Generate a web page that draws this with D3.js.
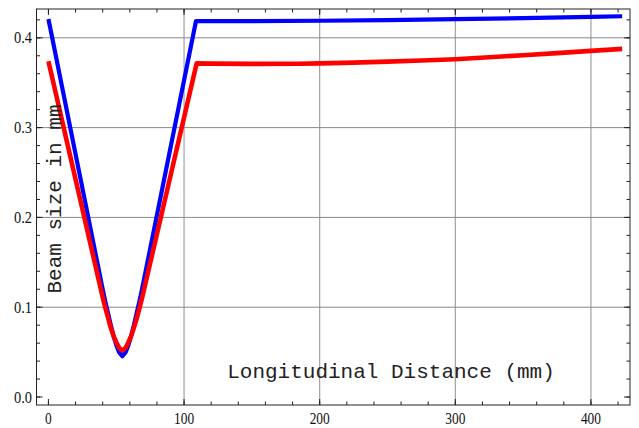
<!DOCTYPE html>
<html>
<head>
<meta charset="utf-8">
<script src="https://cdn.jsdelivr.net/npm/d3@7"></script>
<style>
  html, body { margin: 0; padding: 0; background: #fff; }
  svg { display: block; }
</style>
</head>
<body>
<svg id="chart" width="639" height="428"></svg>
<script>
// ---- data ----
const blueX = [0, 40, 42, 44, 46, 48, 50, 52, 54.5, 57, 59, 61, 63, 65, 67, 69, 108.8, 110, 150, 200, 250, 300, 350, 400, 423];
const blueY = [0.421, 0.120, 0.106, 0.093, 0.080, 0.068, 0.058, 0.050, 0.0455, 0.050, 0.058, 0.068, 0.080, 0.093, 0.106, 0.120, 0.4187, 0.4186, 0.4185, 0.4190, 0.4198, 0.4208, 0.4220, 0.4233, 0.4240];

const redX = [0, 40, 42, 44, 46, 48, 50, 52, 54.4, 57, 59, 61, 63, 65, 67, 69, 109.3, 120, 150, 185, 200, 225, 250, 275, 300, 325, 350, 375, 400, 423];
const redY = [0.374, 0.111, 0.099, 0.088, 0.077, 0.068, 0.061, 0.055, 0.0516, 0.055, 0.061, 0.068, 0.077, 0.087, 0.098, 0.110, 0.3716, 0.3713, 0.3710, 0.3712, 0.3716, 0.3724, 0.3735, 0.3747, 0.3762, 0.3783, 0.3806, 0.3830, 0.3855, 0.3877];

const xMajorTicks = [0, 100, 200, 300, 400];
const xTickLabels = ["0", "100", "200", "300", "400"];
const yMajorTicks = [0.0, 0.1, 0.2, 0.3, 0.4];
const yTickLabels = ["0.0", "0.1", "0.2", "0.3", "0.4"];
const xGridValues = [100, 200, 300, 400];
const yGridValues = [0.1, 0.2, 0.3, 0.4];
const xMinorTicks = d3.range(0, 421, 20);
const yMinorTicks = d3.range(0, 43).filter(i => i % 2 === 0).map(i => +(i / 100).toFixed(2));

const xLabel = "Longitudinal Distance (mm)";
const yLabel = "Beam size in mm";

// ---- layout ----
const L = 36.5, R = 630, T = 9, B = 405;
const x = d3.scaleLinear().domain([-8.8, 428.8]).range([L, R]);
const y = d3.scaleLinear().domain([-0.0089, 0.4321]).range([B, T]);

const svg = d3.select("#chart");

// grid
const g = svg.append("g");
g.selectAll(".gx").data(xGridValues).enter().append("line")
  .attr("x1", d => x(d)).attr("x2", d => x(d)).attr("y1", T).attr("y2", B)
  .attr("stroke", "#9a9a9a").attr("stroke-width", 1.1);
g.selectAll(".gy").data(yGridValues).enter().append("line")
  .attr("x1", L).attr("x2", R).attr("y1", d => y(d)).attr("y2", d => y(d))
  .attr("stroke", "#8a8a8a").attr("stroke-width", 1);

// ticks (inward, all four sides)
function addTicks(vals, len) {
  vals.forEach(v => {
    g.append("line").attr("x1", x(v)).attr("x2", x(v)).attr("y1", B).attr("y2", B - len).attr("stroke", "#222");
    g.append("line").attr("x1", x(v)).attr("x2", x(v)).attr("y1", T).attr("y2", T + len).attr("stroke", "#222");
  });
}
function addYTicks(vals, len) {
  vals.forEach(v => {
    g.append("line").attr("y1", y(v)).attr("y2", y(v)).attr("x1", L).attr("x2", L + len).attr("stroke", "#222");
    g.append("line").attr("y1", y(v)).attr("y2", y(v)).attr("x1", R).attr("x2", R - len).attr("stroke", "#222");
  });
}
addTicks(xMinorTicks, 3.5);
addTicks(xMajorTicks, 6);
addYTicks(yMinorTicks, 3.5);
addYTicks(yMajorTicks, 6);

// frame
svg.append("rect").attr("x", L).attr("y", T).attr("width", R - L).attr("height", B - T)
  .attr("fill", "none").attr("stroke", "#222").attr("stroke-width", 1);

// tick labels
svg.selectAll(".xl").data(xMajorTicks).enter().append("text")
  .attr("x", d => x(d)).attr("y", 424)
  .attr("text-anchor", "middle")
  .attr("font-family", "'Liberation Serif', 'Times New Roman', serif")
  .attr("font-size", 16)
  .attr("textLength", (d, i) => xTickLabels[i].length * 6.7)
  .attr("lengthAdjust", "spacingAndGlyphs")
  .attr("fill", "#111")
  .text((d, i) => xTickLabels[i]);

svg.selectAll(".yl").data(yMajorTicks).enter().append("text")
  .attr("x", 32).attr("y", d => y(d) + 5.6)
  .attr("text-anchor", "end")
  .attr("font-family", "'Liberation Serif', 'Times New Roman', serif")
  .attr("font-size", 17)
  .attr("textLength", 18)
  .attr("lengthAdjust", "spacingAndGlyphs")
  .attr("fill", "#111")
  .text((d, i) => yTickLabels[i]);

// curves
const line = d3.line().x(d => x(d[0])).y(d => y(d[1])).curve(d3.curveLinear);
svg.append("path").datum(blueX.map((v, i) => [v, blueY[i]]))
  .attr("d", line).attr("fill", "none").attr("stroke", "#0000ff").attr("stroke-width", 4.2)
  .attr("stroke-linejoin", "round");
svg.append("path").datum(redX.map((v, i) => [v, redY[i]]))
  .attr("d", line).attr("fill", "none").attr("stroke", "#ff0000").attr("stroke-width", 4.6)
  .attr("stroke-linejoin", "round");

// axis labels (inside the plot)
svg.append("text")
  .attr("x", 391).attr("y", 378)
  .attr("text-anchor", "middle")
  .attr("font-family", "'Liberation Mono', 'Courier New', monospace")
  .attr("font-size", 21)
  .attr("fill", "#222")
  .text(xLabel);

svg.append("text")
  .attr("transform", "translate(61,199) rotate(-90)")
  .attr("text-anchor", "middle")
  .attr("font-family", "'Liberation Mono', 'Courier New', monospace")
  .attr("font-size", 21)
  .attr("fill", "#222")
  .text(yLabel);
</script>
</body>
</html>
